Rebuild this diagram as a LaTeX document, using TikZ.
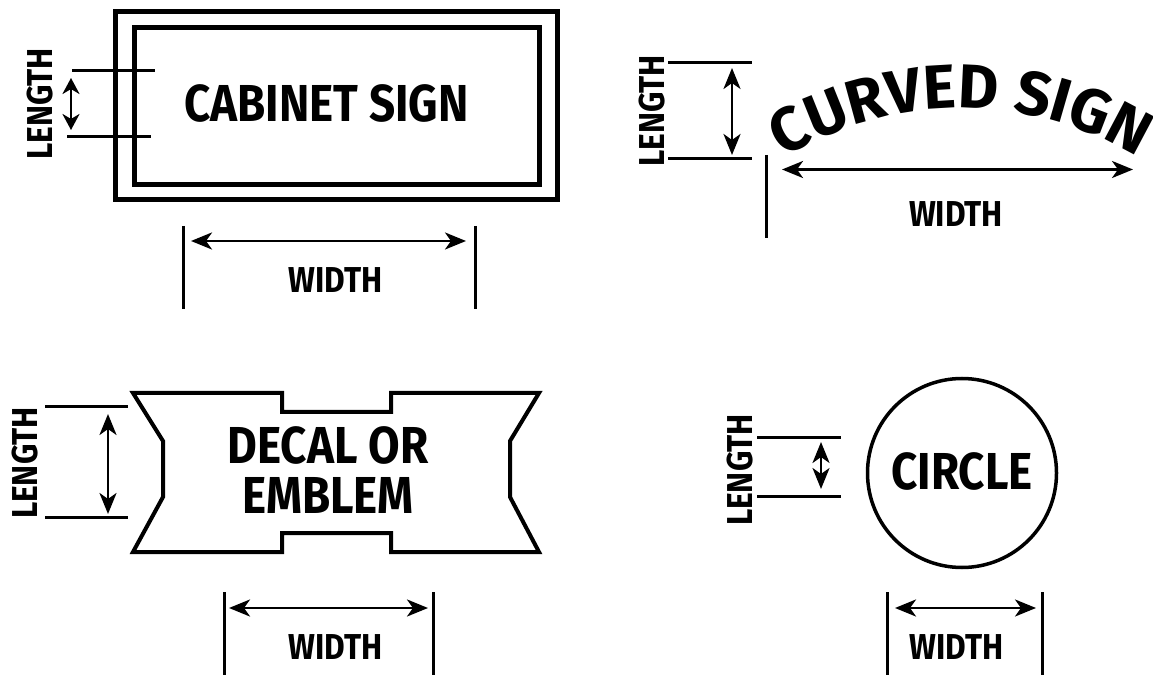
\documentclass[tikz,border=0pt]{standalone}
\usepackage{fontspec}
\newfontfamily\signfont{Fira Sans}[FakeStretch=0.88]
\newfontfamily\arcfont{Fira Sans}
\usetikzlibrary{arrows.meta,decorations.text}

\begin{document}
\begin{tikzpicture}[x=1pt,y=1pt,
  >={Stealth[length=21pt,width=17pt,inset=6pt]},
  dim/.style={<->, line width=2.8pt},
  ext/.style={line width=3pt},
  sign/.style={line width=5pt},
  lbl/.style={font=\signfont\bfseries\fontsize{52}{50}\selectfont, align=center, inner sep=0pt},
  dlbl/.style={font=\signfont\bfseries\fontsize{36}{36}\selectfont, inner sep=0pt},
  vlbl/.style={dlbl, rotate=90},
]
  \useasboundingbox (0,0) rectangle (1153,675);

  % cabinet sign
  \draw[sign] (115.5,663.5) rectangle (557.5,475);
  \draw[sign] (134,647) rectangle (539.5,490.5);
  \node[lbl] (cab) at (326.5,572) {CABINET SIGN};
  \draw[ext] (72,604) -- (155,604);
  \draw[ext] (67,538) -- (151,538);
  \draw[dim, >={Stealth[length=16pt,width=17pt,inset=5pt]}] (71,597) -- (71,545);
  \node[vlbl] (cabl) at (40,571) {LENGTH};
  \draw[ext] (183,449) -- (183,366);
  \draw[ext] (475,449) -- (475,366);
  \draw[dim] (191,434) -- (466,434);
  \node[dlbl] (cabw) at (335.5,395) {WIDTH};

  % curved sign
  \path[decorate, decoration={text along path, text align=center,
        text={|\arcfont\bfseries\fontsize{62}{62}\selectfont|CURVED SIGN}}]
    (961,227) ++(130:340) arc[start angle=130, end angle=50, radius=340];
  \draw[ext] (668,612) -- (752,612);
  \draw[ext] (668,516) -- (752,516);
  \draw[dim] (732,607) -- (732,520);
  \node[vlbl] (curl) at (652,564) {LENGTH};
  \draw[ext] (766,520) -- (766,437);
  \draw[dim] (782,505.5) -- (1133,505.5);
  \node[dlbl] (curw) at (956,461) {WIDTH};

  % decal or emblem
  \draw[sign, line width=4pt, line join=miter]
    (133,282) -- (163,234) -- (163,178) -- (133,123) -- (282,123) -- (282,142)
    -- (391,142) -- (391,123) -- (539,123) -- (510,178) -- (510,234) -- (539,282)
    -- (391,282) -- (391,263) -- (282,263) -- (282,282) -- cycle;
  \node[lbl] (dec) at (328,204.5) {DECAL OR\\EMBLEM};
  \draw[ext] (45,268) -- (128,268);
  \draw[ext] (45,158) -- (128,158);
  \draw[dim] (108,261) -- (108,161);
  \node[vlbl] (decl) at (25,212) {LENGTH};
  \draw[ext] (224,83) -- (224,0);
  \draw[ext] (433,83) -- (433,0);
  \draw[dim] (229,67) -- (428,67);
  \node[dlbl] (decw) at (335.5,27.5) {WIDTH};

  % circle
  \draw[line width=3.5pt] (962,202) circle[radius=94.5];
  \node[lbl] (cir) at (962,203.5) {CIRCLE};
  \draw[ext] (757,237) -- (841,237);
  \draw[ext] (757,179) -- (841,179);
  \draw[dim] (821,233) -- (821,186);
  \node[vlbl] (cirl) at (740,205) {LENGTH};
  \draw[ext] (887,83) -- (887,0);
  \draw[ext] (1042,83) -- (1042,0);
  \draw[dim] (895,67) -- (1036,67);
  \node[dlbl] (cirw) at (956.5,27.5) {WIDTH};
\end{tikzpicture}
\end{document}
